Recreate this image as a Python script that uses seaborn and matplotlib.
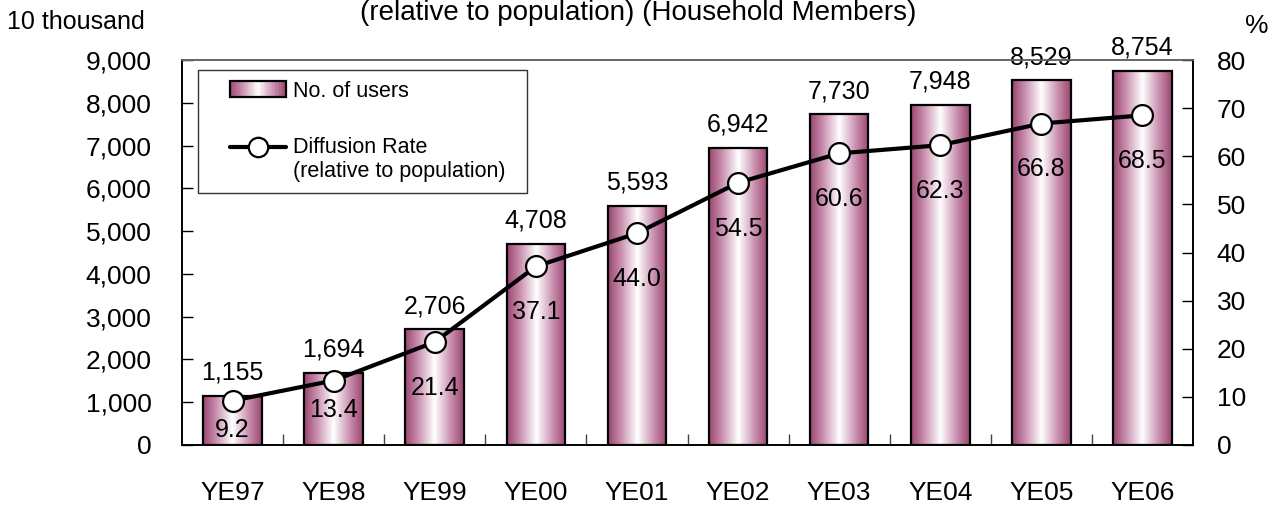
import numpy as np
import pandas as pd
import matplotlib
matplotlib.use("Agg")
import matplotlib.pyplot as plt
import seaborn as sns
from matplotlib.colors import LinearSegmentedColormap
from matplotlib.legend_handler import HandlerBase
from matplotlib.patches import Rectangle
from matplotlib.lines import Line2D

# ---- data ----
categories = ["YE97", "YE98", "YE99", "YE00", "YE01", "YE02", "YE03", "YE04", "YE05", "YE06"]
users = [1155, 1694, 2706, 4708, 5593, 6942, 7730, 7948, 8529, 8754]
rates = [9.2, 13.4, 21.4, 37.1, 44.0, 54.5, 60.6, 62.3, 66.8, 68.5]
left_ticks = [0, 1000, 2000, 3000, 4000, 5000, 6000, 7000, 8000, 9000]
right_ticks = [0, 10, 20, 30, 40, 50, 60, 70, 80]
bar_label = "No. of users"
line_label = "Diffusion Rate\n(relative to population)"
title_text = "(relative to population) (Household Members)"
left_unit = "10 thousand"
right_unit = "%"

sns.set_theme(style="white")
plt.rcParams["font.family"] = ["Liberation Sans", "DejaVu Sans"]
plt.rcParams["text.color"] = "black"
plt.rcParams["xtick.color"] = "black"
plt.rcParams["ytick.color"] = "black"
FS = 19
LFS = 18
plt.rcParams["font.size"] = FS

dark = "#9a4670"
mid = "#c98fae"
cmap = LinearSegmentedColormap.from_list(
    "barg", [(0.0, dark), (0.22, mid), (0.5, "#ffffff"), (0.78, mid), (1.0, dark)])

W, H = 1276, 505
fig = plt.figure(figsize=(W / 100, H / 100), dpi=100)
L, R, T, B = 182, 1193, 60, 445
ax = fig.add_axes([L / W, (H - B) / H, (R - L) / W, (B - T) / H])

df = pd.DataFrame({"cat": categories, "users": users, "rate": rates})
sns.barplot(data=df, x="cat", y="users", ax=ax, color="white", edgecolor="black",
            linewidth=1.6, width=0.58, saturation=1)

grad = np.linspace(0, 1, 256).reshape(1, -1)
for p in list(ax.patches):
    x0, y0, w, h = p.get_x(), p.get_y(), p.get_width(), p.get_height()
    p.set_facecolor("none")
    p.set_zorder(3)
    im = ax.imshow(grad, extent=[x0, x0 + w, y0, y0 + h], aspect="auto",
                   cmap=cmap, zorder=2, interpolation="bilinear")
    im.set_clip_path(p)

ax.set_xlim(-0.5, len(categories) - 0.5)
ax.set_ylim(0, 9000)
ax.set_yticks(left_ticks)
ax.set_yticklabels([f"{t:,}" for t in left_ticks])
ax.set_xlabel("")
ax.set_ylabel("")
ax.tick_params(axis="y", direction="in", length=8, width=1, pad=22, left=True, labelsize=FS, colors="black")
ax.tick_params(axis="x", which="major", length=0, pad=26, labelsize=FS, colors="black")
ax.set_xticks(np.arange(0.5, len(categories) - 1, 1.0), minor=True)
ax.tick_params(axis="x", which="minor", direction="in", length=8, width=1, bottom=True, color="#444444")

for i, v in enumerate(users):
    ax.annotate(f"{v:,}", (i, v), xytext=(0, 8), textcoords="offset points",
                ha="center", va="bottom", fontsize=LFS, zorder=6)

ax2 = ax.twinx()
sns.lineplot(x=np.arange(len(rates)), y=rates, ax=ax2, color="black", linewidth=3,
             marker="o", markersize=15, markerfacecolor="white", markeredgecolor="black",
             markeredgewidth=1.6, zorder=5)
ax2.set_ylim(0, 80)
ax2.set_yticks(right_ticks)
ax2.set_yticklabels([str(t) for t in right_ticks])
ax2.set_ylabel("")
ax2.tick_params(axis="y", direction="in", length=8, width=1, pad=17, right=True, labelsize=FS, colors="black")

for i, r in enumerate(rates):
    off = -33 if r >= 20 else -21
    ax2.annotate(f"{r:.1f}", (i, r), xytext=(0, off), textcoords="offset points",
                 ha="center", va="center", fontsize=LFS, zorder=6)

for a in (ax, ax2):
    for s in a.spines.values():
        s.set_color("black")
        s.set_linewidth(1.2)
    a.spines["top"].set_color("#666666")

LEG_FS = 15.5
GLYPH_FRAC = 57 / 78  # visible part of the handle box (right side)


class GradHandler(HandlerBase):
    def create_artists(self, legend, orig_handle, xdescent, ydescent, width, height, fontsize, trans):
        arts = []
        gw = width * GLYPH_FRAC
        gx = -xdescent + width - gw
        n = 40
        for k in range(n):
            arts.append(Rectangle((gx + gw * k / n, -ydescent), gw / n + 0.3, height,
                                  facecolor=cmap((k + 0.5) / n), edgecolor="none", transform=trans))
        arts.append(Rectangle((gx, -ydescent), gw, height, facecolor="none",
                              edgecolor="black", linewidth=1.6, transform=trans))
        return arts


class LineMarkHandler(HandlerBase):
    def create_artists(self, legend, orig_handle, xdescent, ydescent, width, height, fontsize, trans):
        gw = width * GLYPH_FRAC
        gx = -xdescent + width - gw
        y = -ydescent + height / 2 + 0.62 * fontsize
        ln = Line2D([gx, gx + gw], [y, y], color="black", linewidth=3, transform=trans)
        mk = Line2D([gx + gw / 2], [y], marker="o", markersize=14, markerfacecolor="white",
                    markeredgecolor="black", markeredgewidth=1.6, linestyle="none", transform=trans)
        return [ln, mk]


bar_handle = Rectangle((0, 0), 1, 1)
line_handle = Line2D([], [])
x0l = (198 - L) / (R - L)
wl = (527 - 198) / (R - L)
y1l = (B - 70) / (B - T)
leg = ax2.legend([bar_handle, line_handle], [bar_label, line_label],
                 handler_map={Rectangle: GradHandler(), Line2D: LineMarkHandler()},
                 loc="upper left", bbox_to_anchor=(x0l, y1l - 0.5, wl, 0.5), mode="expand",
                 borderaxespad=0, frameon=True, fancybox=False, fontsize=LEG_FS,
                 handlelength=3.6, handletextpad=0.3, labelspacing=1.65, borderpad=0.5,
                 handleheight=0.75)
leg.get_frame().set_edgecolor("black")
leg.get_frame().set_linewidth(1.0)
leg.set_zorder(10)

fig.text(0.5, 1 - 13 / H, title_text, ha="center", va="center", fontsize=20)
fig.text(7 / W, 1 - 22 / H, left_unit, ha="left", va="center", fontsize=18)
fig.text(1257 / W, 1 - 26 / H, right_unit, ha="center", va="center", fontsize=FS)

fig.savefig("out.png", dpi=100)
